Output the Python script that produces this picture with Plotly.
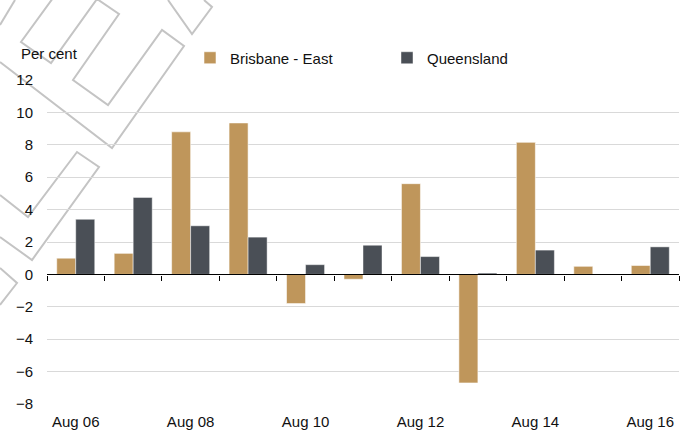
import plotly.graph_objects as go

# ---- data ----
categories = ["Aug 06", "Aug 07", "Aug 08", "Aug 09", "Aug 10", "Aug 11",
              "Aug 12", "Aug 13", "Aug 14", "Aug 15", "Aug 16"]
brisbane_east = [1.0, 1.3, 8.8, 9.35, -1.8, -0.3, 5.6, -6.7, 8.15, 0.5, 0.55]
queensland = [3.4, 4.75, 3.0, 2.3, 0.6, 1.8, 1.1, 0.08, 1.5, None, 1.7]
x_tick_labels = ["Aug 06", "Aug 08", "Aug 10", "Aug 12", "Aug 14", "Aug 16"]
y_tick_values = [-8, -6, -4, -2, 0, 2, 4, 6, 8, 10, 12]
series_names = ["Brisbane - East", "Queensland"]
y_label = "Per cent"

# ---- styling ----
W, H = 684, 430
ML, MR, MT, MB = 47, 5, 80, 26
PL, PR, PT, PB = ML, W - MR, MT, H - MB
FONT = "Liberation Sans, Arial, sans-serif"
FS = 15
TAN = "#BF965B"
DARK = "#4A4F56"
WM = "#C4C4C4"


def px_x(x):
    return (x - PL) / (PR - PL)


def px_y(y):
    return (PB - y) / (PB - PT)


fig = go.Figure()
fig.add_trace(go.Bar(x=categories, y=brisbane_east, name=series_names[0],
                     marker=dict(color=TAN, line=dict(color="rgba(255,255,255,0.55)", width=1))))
fig.add_trace(go.Bar(x=categories, y=queensland, name=series_names[1],
                     marker=dict(color=DARK, line=dict(color="rgba(255,255,255,0.45)", width=1))))
# empty helper trace so the zero-line category-boundary axis is drawn
fig.add_trace(go.Scatter(x=[], y=[], xaxis="x2", yaxis="y", showlegend=False,
                         hoverinfo="skip", mode="markers"))

# decorative watermark outlines (pixel polylines -> paper coords)
wm_paths = [
    [(0, 25), (15, 0)],
    [(53, -2), (21, 42), (51, 63), (97, -1), (119, 14), (73, 80), (108, 105),
     (162, 30), (184, 46), (112, 148), (0, 62)],
    [(0, 195), (28, 217), (77, 152), (99, 167), (32, 260), (0, 237)],
    [(0, 268), (17, 283), (0, 305)],
    [(168, 0), (192, 34), (212, 7), (204, 0)],
]
shapes = []
for pts in wm_paths:
    d = "M " + " L ".join(f"{px_x(x):.5f},{px_y(y):.5f}" for x, y in pts)
    shapes.append(dict(type="path", path=d, xref="paper", yref="paper",
                       line=dict(color=WM, width=2), layer="below"))

fig.update_layout(
    width=W, height=H,
    margin=dict(l=ML, r=MR, t=MT, b=MB, pad=0, autoexpand=False),
    paper_bgcolor="white", plot_bgcolor="white",
    font=dict(family=FONT, size=FS, color="#111111"),
    barmode="group", bargap=0.338, bargroupgap=0,
    shapes=shapes,
    showlegend=True,
    legend=dict(orientation="h", x=px_x(190), y=px_y(58), xanchor="left", yanchor="middle",
                entrywidth=152, bgcolor="rgba(0,0,0,0)", borderwidth=0,
                font=dict(family=FONT, size=FS, color="#111111"), traceorder="normal"),
    xaxis=dict(type="category", categoryorder="array", categoryarray=categories,
               tickmode="array", tickvals=x_tick_labels, ticktext=x_tick_labels,
               showgrid=False, showline=False, zeroline=False, ticks="",
               ticklabelstandoff=7,
               range=[-0.5, len(categories) - 0.5], automargin=False),
    xaxis2=dict(overlaying="x", anchor="free",
                position=(0 - y_tick_values[0]) / (y_tick_values[-1] - y_tick_values[0]),
                range=[-0.5, len(categories) - 0.5], tickmode="linear", tick0=-0.5, dtick=1,
                ticks="outside", ticklen=5, tickcolor="#000000", tickwidth=1,
                showticklabels=False, showgrid=False, zeroline=False,
                showline=True, linecolor="#000000", linewidth=1.3, automargin=False),
    yaxis=dict(range=[y_tick_values[0], y_tick_values[-1]], tickmode="array",
               tickvals=y_tick_values, showgrid=True, gridcolor="#D9D9D9", gridwidth=1,
               zeroline=False, showline=False, ticks="", ticklabelstandoff=13,
               automargin=False),
    annotations=[dict(text=y_label, xref="paper", yref="paper", x=px_x(19), y=px_y(53),
                      xanchor="left", yanchor="middle", showarrow=False,
                      font=dict(family=FONT, size=FS, color="#111111"))],
)

fig.write_html("out.html", config={"displayModeBar": False},
               post_script="document.body.style.margin='0px';document.body.style.padding='0px';")
